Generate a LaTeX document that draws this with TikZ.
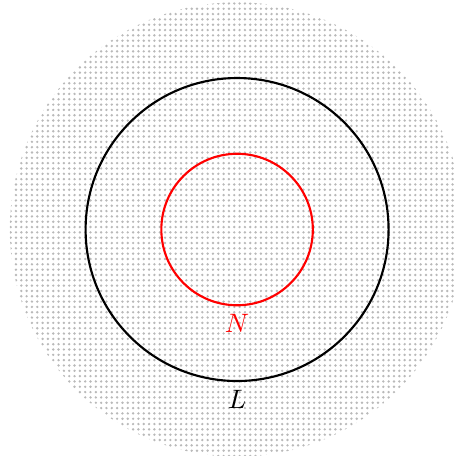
\documentclass[tikz,border=0pt]{standalone}
\usepackage{tikz}
\usetikzlibrary{patterns.meta}
\begin{document}
\begin{tikzpicture}[
  region/.style={pattern={Dots[distance=2pt,radius=0.5pt]},pattern color=gray!55},
  ring/.style={thick}]
\useasboundingbox (-3.13,-2.99) rectangle (2.89,3.03);
\fill[region] (0,0) circle (3);
\draw[ring] (0,0) circle (2);
\draw[ring,red] (0,0) circle (1);
\node[below,text=red] (labN) at (0,-1) {$N$};
\node[below] (labL) at (0,-2) {$L$};
\end{tikzpicture}
\end{document}
